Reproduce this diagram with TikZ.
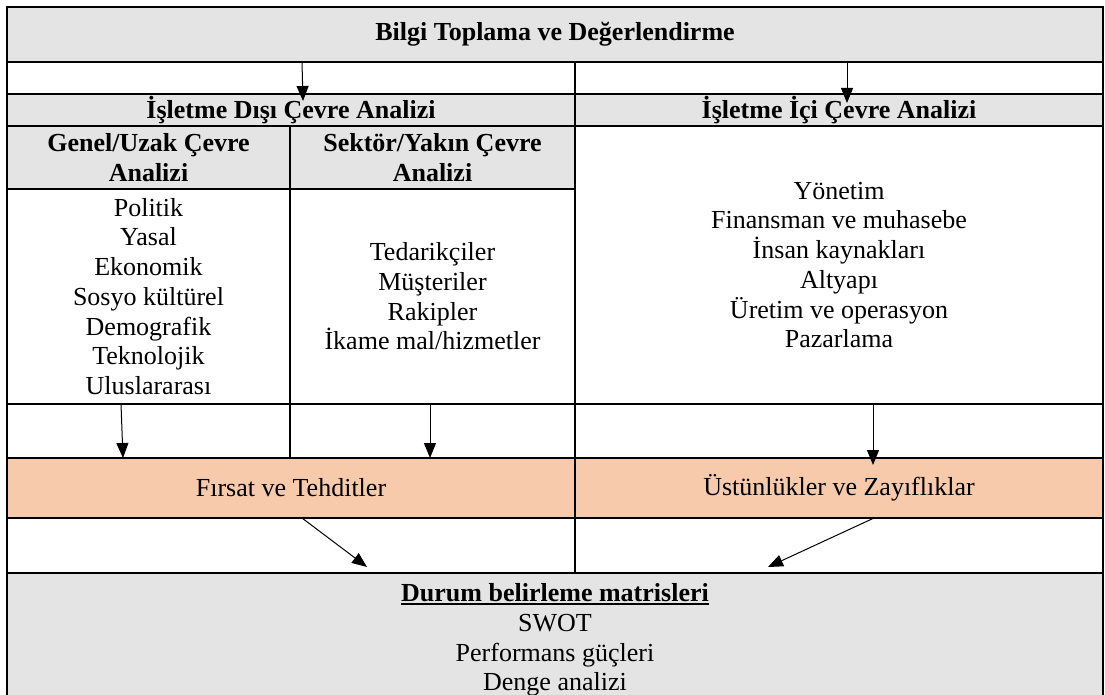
\documentclass[tikz,border=0pt]{standalone}
\usepackage{fontspec}
\setmainfont{Liberation Serif}
\usetikzlibrary{arrows.meta,calc}
\definecolor{cellgray}{RGB}{228,228,228}
\definecolor{cellorange}{RGB}{247,202,172}
% heavy underline for the matrix heading
\newcommand\thickul[1]{\leavevmode\vtop{\hbox{#1}\kern1.5pt\hrule height 2pt}}
\begin{document}
\begin{tikzpicture}[x=1pt,y=-1pt,
  cell/.style={draw=black, line width=2pt, inner sep=0pt, outer sep=0pt,
    anchor=north west, align=center, font=\fontsize{26}{29.7}\selectfont},
  hdr/.style={font=\fontsize{26}{29.7}\selectfont\bfseries},
  sz/.style 2 args={minimum width=#1pt, minimum height=#2pt},
  arr/.style={line width=1pt, -{Triangle[length=15pt,width=12pt]}}]
\useasboundingbox (0,0) rectangle (1105,695);

% header rows
\node[cell, hdr, fill=cellgray, sz={1096}{55}] (title) at (7,7) {Bilgi Toplama ve Değerlendirme};
\node[cell, sz={568}{32}] (gapL) at (7,62) {};
\node[cell, sz={528}{32}] (gapR) at (575,62) {};
\node[cell, hdr, fill=cellgray, sz={568}{32}] (dis) at (7,94) {İşletme Dışı Çevre Analizi};
\node[cell, hdr, fill=cellgray, sz={528}{32}] (ic) at (575,94) {İşletme İçi Çevre Analizi};
\node[cell, hdr, fill=cellgray, sz={283}{63}] (genelH) at (7,126) {Genel/Uzak Çevre\\Analizi};
\node[cell, hdr, fill=cellgray, sz={285}{63}] (sektorH) at (290,126) {Sektör/Yakın Çevre\\Analizi};

% factor lists
\node[cell, sz={283}{215}] (genelL) at (7,189) {Politik\\Yasal\\Ekonomik\\Sosyo kültürel\\Demografik\\Teknolojik\\Uluslararası};
\node[cell, sz={285}{215}] (sektorL) at (290,189) {Tedarikçiler\\Müşteriler\\Rakipler\\İkame mal/hizmetler};
\node[cell, sz={528}{278}] (icL) at (575,126) {Yönetim\\Finansman ve muhasebe\\İnsan kaynakları\\Altyapı\\Üretim ve operasyon\\Pazarlama};

% spacer and result rows
\node[cell, sz={283}{54}] (gapA) at (7,404) {};
\node[cell, sz={285}{54}] (gapB) at (290,404) {};
\node[cell, sz={528}{54}] (gapC) at (575,404) {};
\node[cell, fill=cellorange, sz={568}{60}] (firsat) at (7,458) {Fırsat ve Tehditler};
\node[cell, fill=cellorange, sz={528}{60}] (ustun) at (575,458) {Üstünlükler ve Zayıflıklar};
\node[cell, sz={568}{55}] (gapD) at (7,518) {};
\node[cell, sz={528}{55}] (gapE) at (575,518) {};

% situation matrices (open at the bottom)
\node[cell, draw=none, fill=cellgray, sz={1096}{122}] (durum) at (7,573) {};
\draw[line width=2pt] (durum.south west) -- (durum.north west) -- (durum.north east) -- (durum.south east);
\node[align=center, inner sep=0pt, font=\fontsize{26}{29.7}\selectfont] (durumtxt)
  at ([yshift=-6pt]durum.center)
  {\thickul{\bfseries Durum belirleme matrisleri}\\SWOT\\Performans güçleri\\Denge analizi};

% arrow tips
\coordinate (e1) at (303,101);
\coordinate (e2) at (847,103);
\coordinate (e3) at (123,458);
\coordinate (e4) at (430,458);
\coordinate (e5) at (873,465);
\coordinate (e6) at (367,567);
\coordinate (e7) at (768,567);

\draw[arr] ([xshift=295pt]title.south west) -- (e1);
\draw[arr] ([xshift=292pt]title.south) -- (e2);
\draw[arr] ([xshift=114pt]genelL.south west) -- (e3);
\draw[arr] ([xshift=140pt]sektorL.south west) -- (e4);
\draw[arr] ([xshift=298pt]icL.south west) -- (e5);
\draw[arr] ([xshift=295pt]firsat.south west) -- (e6);
\draw[arr] ([xshift=299pt]ustun.south west) -- (e7);
\end{tikzpicture}
\end{document}
